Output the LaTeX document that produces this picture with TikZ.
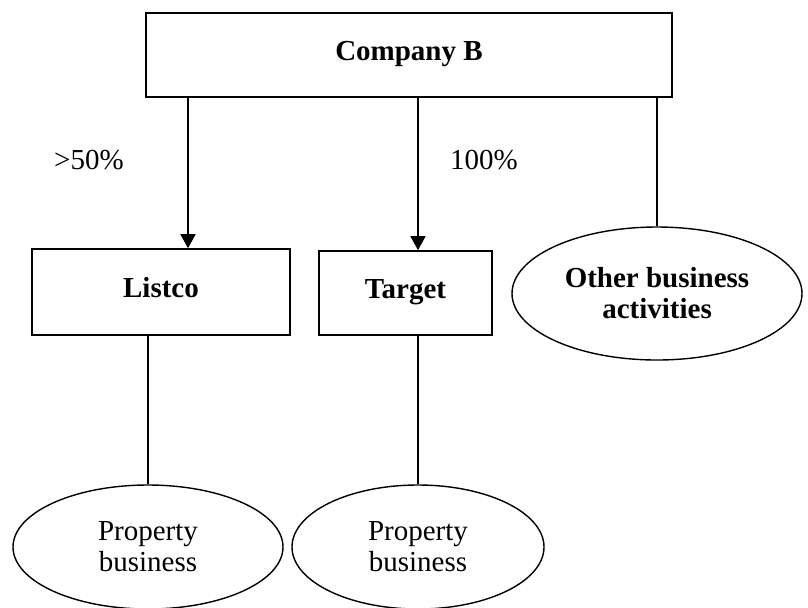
\documentclass[tikz,border=0pt]{standalone}
\usepackage{fontspec}
\setmainfont{Liberation Serif}
\usepackage{tikz}
\usetikzlibrary{shapes.geometric, arrows.meta, positioning}
\newcommand{\diagfont}{\fontsize{14.5}{15.5}\selectfont}
\tikzstyle{block} = [rectangle, draw=black, line width=0.8pt, inner sep=0pt, text centered, text height=0.7em, text depth=0.2em, font=\diagfont\bfseries]
\tikzstyle{oval} = [ellipse, draw=black, line width=0.7pt, inner sep=0pt, align=center, font=\diagfont]
\tikzstyle{arrow} = [line width=0.7pt, -{Triangle[length=7pt, width=7.5pt]}]
\tikzstyle{link} = [line width=0.7pt]

\begin{document}
\begin{tikzpicture}[x=0.5pt, y=-0.5pt, every node/.style={font=\diagfont}]
  \useasboundingbox (0,0) rectangle (808,607);

  \node[block, minimum width=263pt, minimum height=42pt] (compB) at (409,55) {Company B};
  \node[block, minimum width=129pt, minimum height=43pt] (listco) at (161,292) {Listco};
  \node[block, minimum width=86.5pt, minimum height=42pt] (target) at (405.5,293) {Target};
  \node[oval, minimum width=145pt, minimum height=66.5pt, font=\diagfont\bfseries] (other) at (657,293.5) {Other business\\activities};

  \node[oval, minimum width=135pt, minimum height=62pt] (propA) at (148,547) {Property\\business};
  \node[oval, minimum width=126pt, minimum height=62pt] (propB) at (418,547) {Property\\business};

  \draw[arrow] ([xshift=13.5pt]listco.north |- compB.south) -- ([xshift=13.5pt]listco.north);
  \draw[arrow] ([xshift=6.25pt]target.north |- compB.south) -- ([xshift=6.25pt]target.north);
  \draw[link] (other.north |- compB.south) -- (other.north);
  \draw[link] (propA.north |- listco.south) -- (propA.north);
  \draw[link] (propB.north |- target.south) -- (propB.north);

  \node (majority) at (89,160) {>50\%};
  \node (full) at (484,160) {100\%};
\end{tikzpicture}
\end{document}
